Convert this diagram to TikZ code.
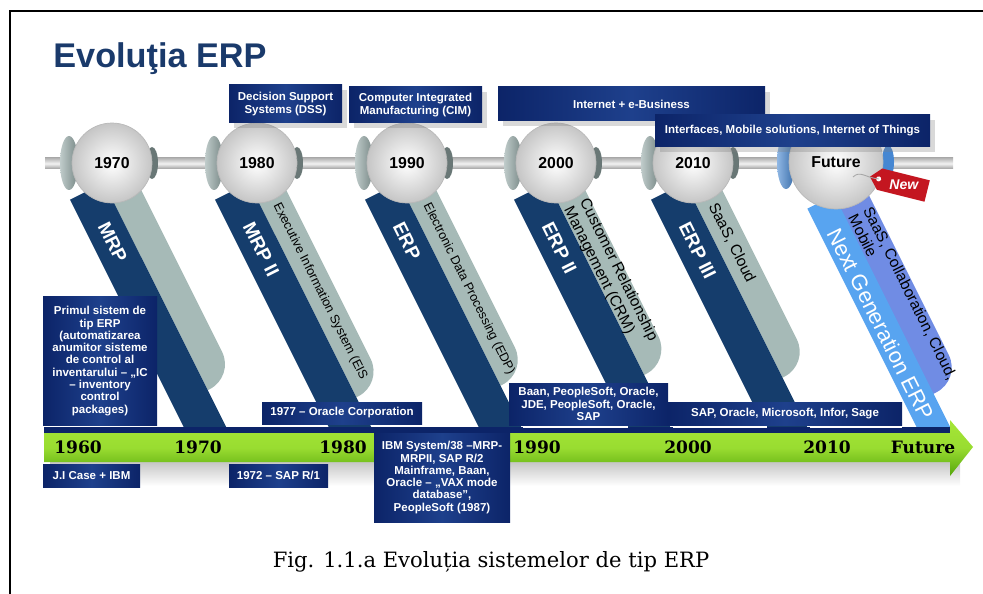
\documentclass[tikz,border=0pt]{standalone}
\usepackage{fontspec}
\setmainfont{Liberation Sans}
\newfontfamily\slabfont{DejaVu Serif}
\usetikzlibrary{shadows}

\definecolor{navy}{RGB}{12,36,104}
\definecolor{navylight}{RGB}{30,64,140}
\definecolor{bandblue}{RGB}{21,61,108}
\definecolor{bandgray}{RGB}{166,186,183}
\definecolor{titleblue}{RGB}{26,58,107}
\definecolor{eargray}{RGB}{150,170,168}
\definecolor{futblue}{RGB}{88,164,240}
\definecolor{futpurple}{RGB}{112,140,228}
\definecolor{earblue}{RGB}{70,135,210}
\definecolor{tagred}{RGB}{196,22,32}
\definecolor{barlight}{RGB}{165,230,55}
\definecolor{bardark}{RGB}{85,165,12}

\begin{document}
\begin{tikzpicture}[x=0.02cm, y=-0.02cm]

  \tikzstyle{infobox} = [left color=navy, right color=navy, middle color=navylight]
  \tikzstyle{topbox} = [infobox, drop shadow={shadow xshift=3pt, shadow yshift=-3pt, opacity=0.3}]
  \tikzstyle{boxtext} = [white, align=center, inner sep=0pt, font=\bfseries\fontsize{6.55}{7}\selectfont]
  \tikzstyle{lens} = [circle, minimum size=1.6cm, inner color=white, outer color=gray!45, draw=gray!55, font=\bfseries\fontsize{9}{9}\selectfont]
  \tikzstyle{bandtitle} = [white, anchor=west, rotate=-63.43, font=\bfseries\fontsize{10.8}{11}\selectfont]
  \tikzstyle{bandside} = [black, anchor=west, align=left, rotate=-63.43, inner sep=0pt]
  \tikzstyle{baryear} = [inner sep=0pt, font=\slabfont\bfseries\fontsize{9.7}{10}\selectfont]

  \useasboundingbox (0,0) rectangle (983,594);
  \draw[line width=1.1pt] (983,11) -- (10,11) -- (10,594);

  \node[anchor=base west, titleblue, inner sep=0pt, font=\bfseries\fontsize{19.5}{20}\selectfont] (title) at (53,68) {Evoluţia ERP};

  % rail
  \shade[top color=gray!60, bottom color=gray!75, middle color=gray!10] (45,158) rectangle (953,169);

  % handles
  \begin{scope}
    \clip (0,0) rectangle (983,430);
    \foreach \cx/\len/\ttl/\fs/\sd [count=\i] in {
        112/246/MRP/7.2/{},
        257/254/MRP II/7.2/{Executive Information System (EIS},
        407/241/ERP/7.2/{Electronic Data Processing (EDP)},
        556/229/ERP II/8.8/{Customer Relationship\\Management (CRM)},
        693/232/ERP III/8.8/{SaaS, Cloud}}
    {
      \begin{scope}[shift={(\cx,163)}, rotate=-63.43]
        \fill[bandgray] (0,16) -- (0,-14) -- (\len-28,-14)
          .. controls (\len-12.5,-14) and (\len,-1.5) .. (\len,14) -- (\len,16) -- cycle;
        \fill[bandblue] (14,16) rectangle (330,54);
        \node[bandtitle] (title\i) at (44,35) {\ttl};
        \node[bandside, font=\fontsize{\fs}{10}\selectfont] (side\i) at (45,1) {\sd};
      \end{scope}
    }
    \begin{scope}[shift={(836,163)}, rotate=-63.43]
      \fill[futpurple] (0,17) -- (0,-15) -- (222,-15)
        .. controls (237.5,-15) and (250,-2.5) .. (250,13) -- (250,17) -- cycle;
      \fill[futblue] (28,16) rectangle (330,46);
      \node[bandside, white, font=\fontsize{12.5}{13}\selectfont] (nextgen) at (58,32) {Next Generation ERP};
      \node[bandside, font=\fontsize{8.8}{9.5}\selectfont] (saas) at (54,0) {SaaS, Collaboration, Cloud,\\Mobile};
    \end{scope}
  \end{scope}

  % lenses
  \foreach \cx/\yr in {112/1970, 257/1980, 407/1990, 556/2000, 693/2010}
  {
    \shade[left color=eargray!60!white, right color=eargray!80!black] (\cx-43,163) ellipse [x radius=9, y radius=27];
    \fill[eargray!70!black] (\cx+40,163) ellipse [x radius=6, y radius=16];
    \node[lens] (lens\yr) at (\cx,163) {\yr};
  }
  \shade[left color=earblue!60!white, right color=earblue!80!black] (786,162) ellipse [x radius=9, y radius=27];
  \fill[earblue] (888,162) ellipse [x radius=6, y radius=17];
  \node[lens, minimum size=1.88cm] (lensfuture) at (836,162) {Future};

  % new tag
  \coordinate (loop) at (853,177);
  \begin{scope}[shift={(899,184)}, rotate=-14]
    \fill[tagred] (-30,0) -- (-20,-11) -- (29,-11) -- (29,11) -- (-20,11) -- cycle;
    \fill[white] (-21,0) circle [radius=2.5];
    \coordinate (hole) at (-21,0);
    \node[white, inner sep=0pt, font=\bfseries\itshape\fontsize{8}{8}\selectfont] (newtag) at (5,0) {New};
  \end{scope}
  \draw[gray!70, line width=0.5pt] (loop) .. controls (860,170) and (866,178) .. (hole);

  % top boxes
  \path[topbox] (229,85) rectangle (342,123) node[midway, boxtext] (dss) {Decision Support\\Systems (DSS)};
  \path[topbox] (349,87) rectangle (482,123) node[midway, boxtext] (cim) {Computer Integrated\\Manufacturing (CIM)};
  \path[topbox] (498,87) rectangle (765,121) node[midway, boxtext] (ebiz) {Internet + e-Business};
  \path[topbox] (655,115) rectangle (930,147) node[midway, boxtext] (iot) {Interfaces, Mobile solutions, Internet of Things};

  % time bar
  \shade[top color=gray!45, bottom color=white] (50,462) rectangle (960,486);
  \shade[top color=barlight, bottom color=bardark, middle color=barlight!85!bardark]
    (44,433) -- (950,433) -- (950,420) -- (973,447) -- (950,476) -- (950,462) -- (44,462) -- cycle;
  \fill[navy] (44,427) rectangle (950,433);
  \foreach \xa/\xb in {523/628, 673/767, 810/902}
    \draw[white, line width=0.6pt] (\xa,427) -- (\xb,427);

  \foreach \cx/\yr in {78/1960, 198/1970, 343/1980, 537/1990, 688/2000, 827/2010, 923/Future}
    \node[baryear] (bar\yr) at (\cx,447) {\yr};

  % bottom boxes
  \path[infobox] (43,297) rectangle (157,425) node[midway, boxtext] (primul) {Primul sistem de\\tip ERP\\(automatizarea\\anumitor sisteme\\de control al\\inventarului – „IC\\– inventory\\control\\packages)};
  \path[infobox] (262,402) rectangle (422,424) node[midway, boxtext] (oracle) {1977 – Oracle Corporation};
  \path[infobox] (509,383) rectangle (668,425) node[midway, boxtext] (baan) {Baan, PeopleSoft, Oracle,\\JDE, PeopleSoft, Oracle,\\SAP};
  \path[infobox] (668,402) rectangle (902,425) node[midway, boxtext] (sap) {SAP, Oracle, Microsoft, Infor, Sage};
  \path[infobox] (43,464) rectangle (140,487) node[midway, boxtext] (jicase) {J.I Case + IBM};
  \path[infobox] (229,464) rectangle (328,487) node[midway, boxtext] (sapr1) {1972 – SAP R/1};
  \path[infobox] (374,433) rectangle (510,522) node[midway, boxtext] (ibm) {IBM System/38 –MRP-\\MRPII, SAP R/2\\Mainframe, Baan,\\Oracle – „VAX mode\\database",\\PeopleSoft (1987)};

  \node[font=\slabfont\fontsize{12}{12}\selectfont, anchor=base] (caption) at (491,567) {Fig. 1.1.a Evoluția sistemelor de tip ERP};

\end{tikzpicture}
\end{document}
